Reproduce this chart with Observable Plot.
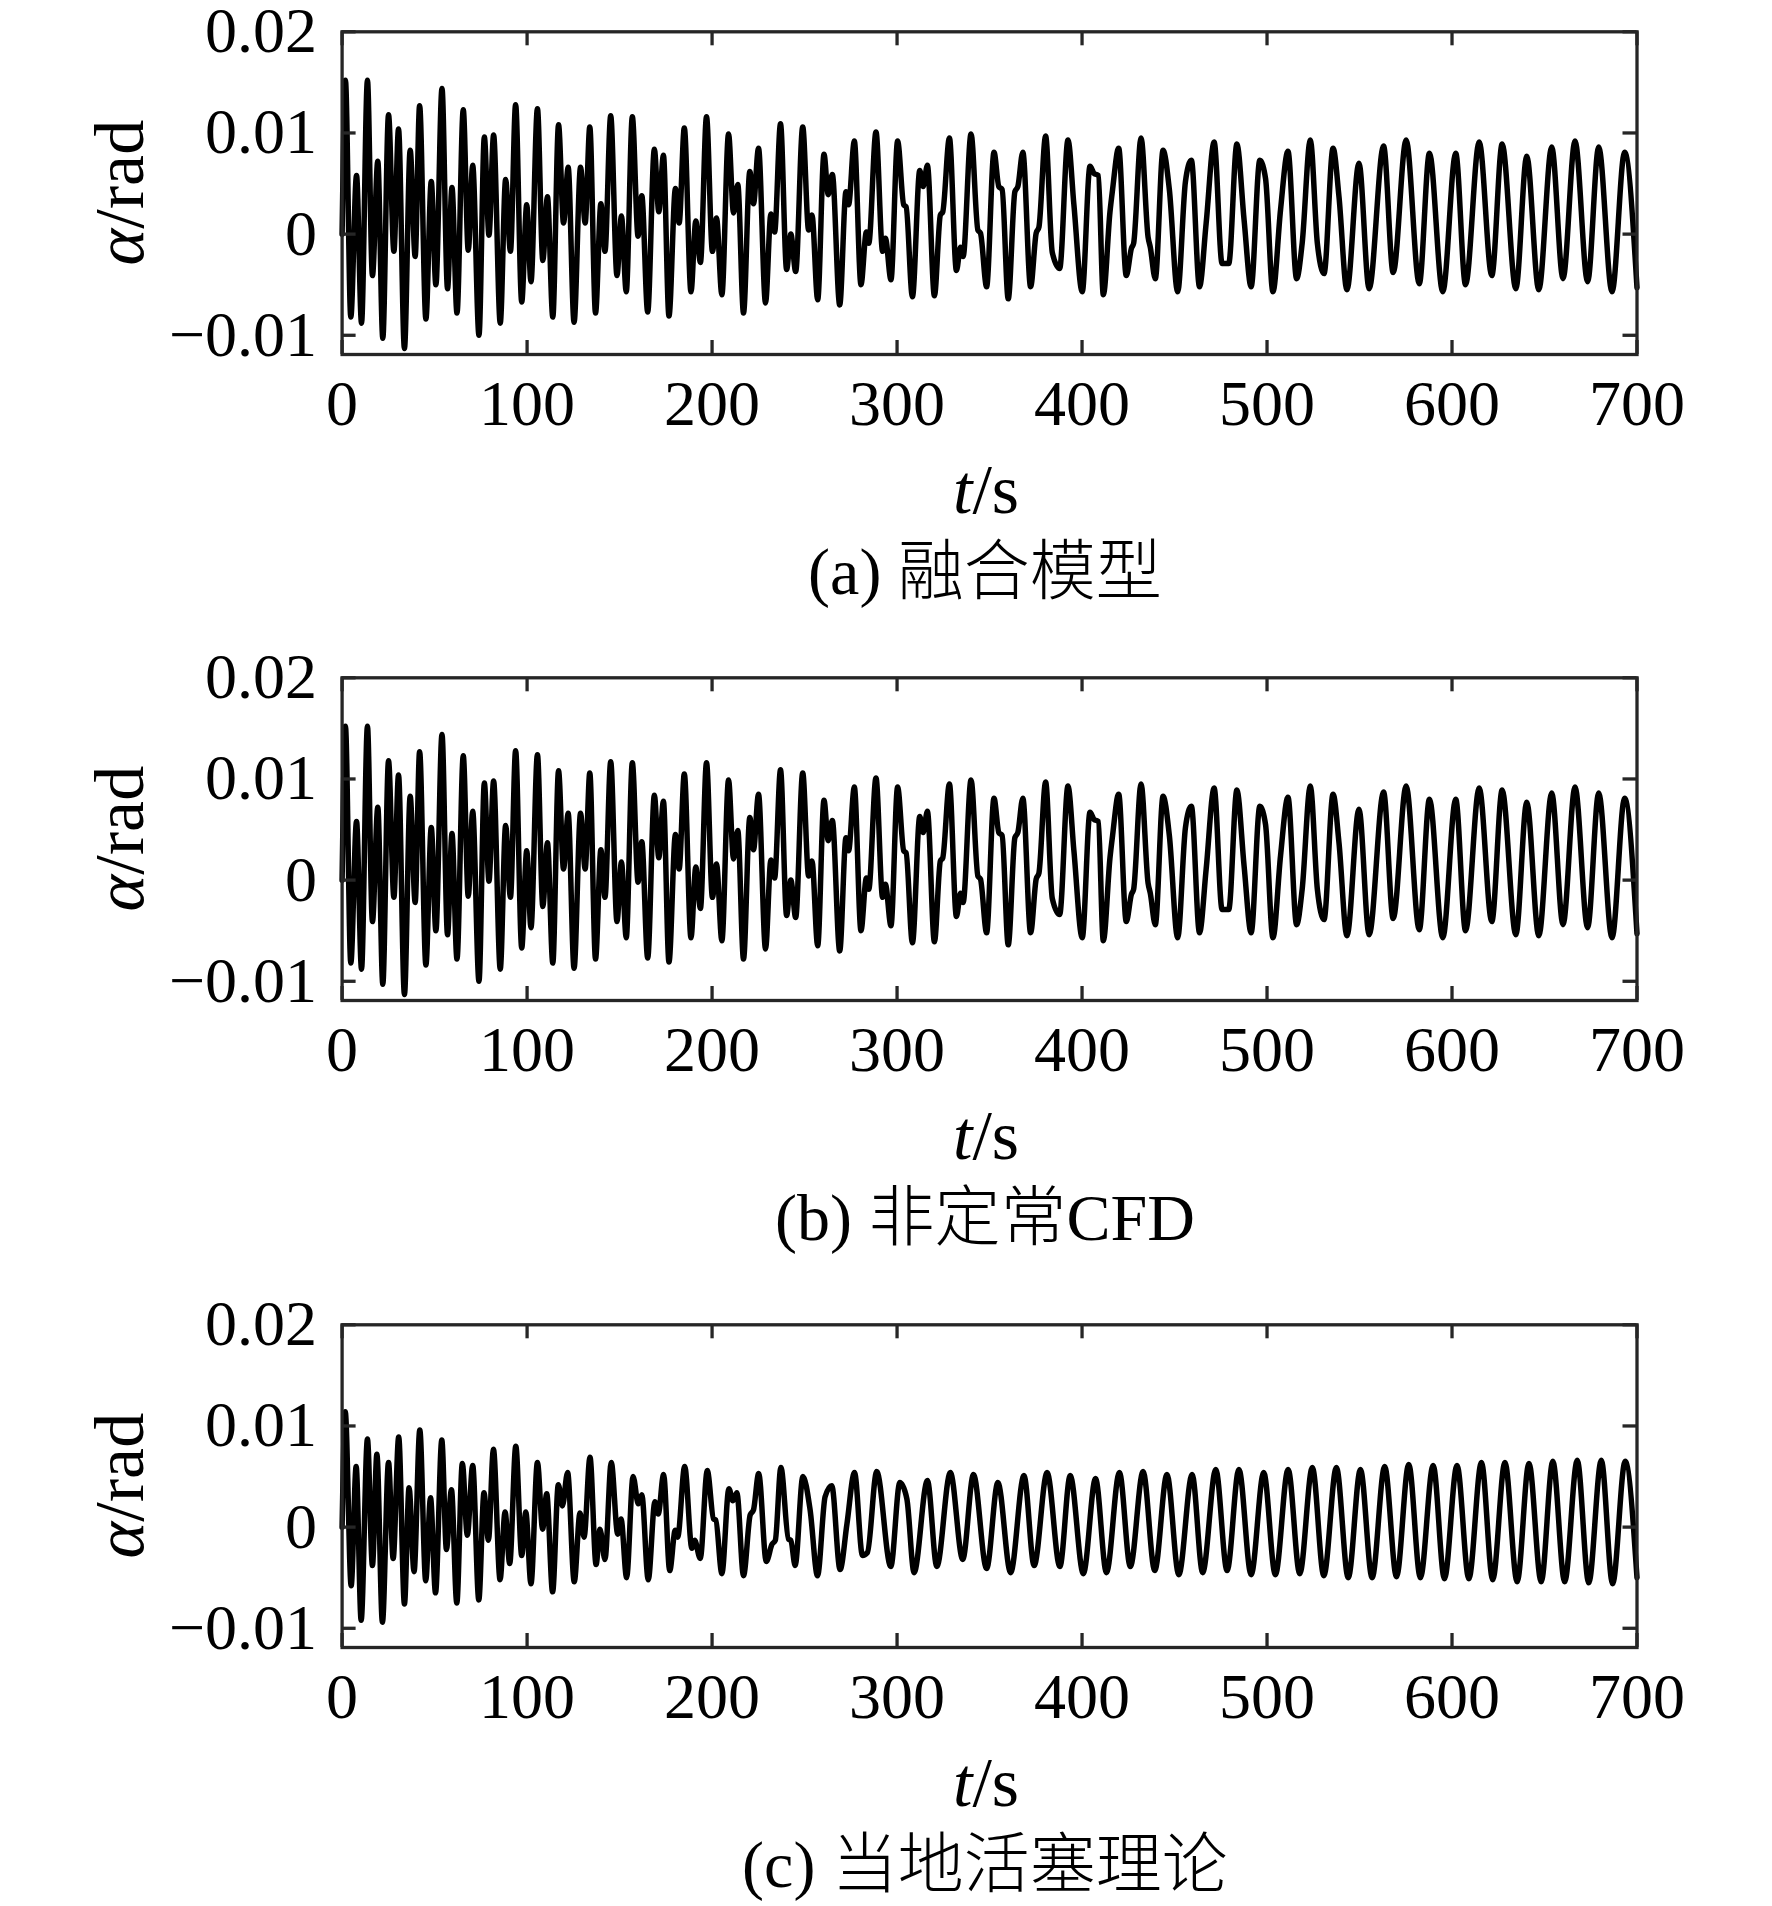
<!DOCTYPE html>
<html>
<head>
<meta charset="utf-8">
<script src="https://cdn.jsdelivr.net/npm/d3@7"></script>
<script src="https://cdn.jsdelivr.net/npm/@observablehq/plot@0.6"></script>
<style>
  html, body { margin: 0; padding: 0; background: #fff; }
  #fig { position: relative; width: 1772px; height: 1906px; background: #fff; }
  #fig svg { position: absolute; left: 0; }
</style>
</head>
<body>
<div id="fig"></div>
<script>
// ---- data: [t (s), alpha (rad)] ----
const fusion = [
[0,0],[1.8,0.0152],[4.7,-0.0082],[7.8,0.0058],[10.5,-0.0088],[13.7,0.0152],[16.4,-0.0041],[19.3,0.0072],[22.0,-0.0103],[25.1,0.0118],
[28.0,-0.0017],[30.5,0.0104],[33.7,-0.0113],[36.8,0.0083],[39.5,-0.0022],[41.9,0.0127],[45.3,-0.0084],[48.2,0.0052],[50.7,-0.0050],[54.0,0.0144],
[57.0,-0.0054],[59.4,0.0046],[62.1,-0.0078],[65.5,0.0123],[68.2,-0.0016],[70.6,0.0068],[74.0,-0.0100],[76.9,0.0096],[79.4,-0.0001],[81.9,0.0098],
[85.5,-0.0088],[88.4,0.0054],[91.0,-0.0017],[93.8,0.0128],[97.1,-0.0067],[99.8,0.0029],[102.1,-0.0047],[105.6,0.0124],[108.5,-0.0026],[111.0,0.0037],
[113.9,-0.0082],[117.0,0.0108],[119.7,0.0011],[122.2,0.0066],[125.4,-0.0087],[128.9,0.0066],[131.4,0.0011],[133.9,0.0106],[137.0,-0.0078],[139.9,0.0030],
[142.1,-0.0017],[145.2,0.0117],[148.6,-0.0041],[151.0,0.0018],[153.6,-0.0057],[156.9,0.0116],[160.0,-0.0002],[162.0,0.0038],[165.2,-0.0077],[168.8,0.0084],
[171.2,0.0022],[173.7,0.0078],[176.7,-0.0081],[180.2,0.0045],[182.2,0.0011],[185.0,0.0105],[188.6,-0.0057],[191.2,0.0013],[193.7,-0.0028],[197.0,0.0116],
[200.2,-0.0017],[202.4,0.0016],[205.3,-0.0060],[208.9,0.0099],[211.6,0.0021],[213.9,0.0049],[217.0,-0.0078],[220.4,0.0062],[222.4,0.0030],[225.1,0.0085],
[228.9,-0.0068],[231.8,0.0020],[233.8,0.0002],[237.0,0.0109],[240.3,-0.0035],[242.6,0.0000],[245.2,-0.0037],[249.0,0.0106],[252.2,0.0004],[254.0,0.0019],
[257.1,-0.0065],[260.5,0.0079],[262.8,0.0039],[265.0,0.0059],[269.0,-0.0070],[272.4,0.0042],[273.8,0.0029],[276.9,0.0092],[280.5,-0.0050],[283.4,0.0002],
[284.7,-0.0009],[288.6,0.0101],[292.2,-0.0017],[293.7,-0.0004],[296.7,-0.0045],[300.3,0.0092],[303.6,0.0029],[304.9,0.0027],[308.3,-0.0062],[312.3,0.0063],
[314.1,0.0047],[316.4,0.0068],[320.2,-0.0061],[323.4,0.0019],[324.7,0.0022],[328.3,0.0095],[332.1,-0.0036],[334.3,-0.0013],[335.7,-0.0022],[340.0,0.0099],
[343.7,0.0004],[345.1,0.0001],[348.4,-0.0052],[352.4,0.0081],[355.0,0.0047],[356.8,0.0044],[360.1,-0.0064],[363.7,0.0042],[365.3,0.0047],[368.0,0.0081],
[372.2,-0.0052],[375.2,0.0001],[376.7,0.0007],[380.3,0.0097],[383.9,-0.0018],[387.9,-0.0034],[392.4,0.0093],[395.6,0.0029],[400.1,-0.0057],[404.3,0.0067],
[406.5,0.0060],[408.8,0.0058],[411.5,-0.0060],[415.1,0.0022],[416.5,0.0044],[419.8,0.0085],[423.9,-0.0041],[426.7,-0.0014],[427.9,-0.0009],[431.9,0.0095],
[435.7,-0.0003],[436.9,-0.0013],[439.6,-0.0044],[443.8,0.0083],[447.2,0.0044],[451.7,-0.0057],[455.9,0.0052],[459.1,0.0073],[463.5,-0.0052],[467.1,0.0011],
[471.4,0.0091],[475.7,-0.0029],[479.3,-0.0029],[483.7,0.0089],[487.6,0.0014],[491.4,-0.0052],[496.1,0.0073],[499.2,0.0055],[503.2,-0.0057],[507.3,0.0024],
[511.3,0.0082],[516.0,-0.0044],[519.0,-0.0009],[523.4,0.0093],[527.2,-0.0009],[530.8,-0.0039],[535.7,0.0085],[538.9,0.0037],[543.2,-0.0055],[549.7,0.0070],
[555.2,-0.0054],[563.0,0.0087],[568.2,-0.0038],[575.2,0.0093],[582.3,-0.0049],[587.8,0.0080],[595.0,-0.0057],[602.0,0.0080],[607.3,-0.0050],[614.7,0.0091],
[621.5,-0.0041],[627.1,0.0089],[634.5,-0.0054],[640.4,0.0077],[646.9,-0.0055],[653.9,0.0086],[660.0,-0.0044],[666.5,0.0092],[673.3,-0.0047],[679.3,0.0086],
[686.5,-0.0057],[693.3,0.0081],[700.0,-0.0053]
];

const cfd = [
[0,0],[1.8,0.0152],[4.7,-0.0082],[7.8,0.0058],[10.5,-0.0088],[13.7,0.0152],[16.4,-0.0041],[19.3,0.0072],[22.0,-0.0103],[25.1,0.0118],
[28.0,-0.0017],[30.5,0.0104],[33.7,-0.0113],[36.8,0.0083],[39.5,-0.0022],[41.9,0.0127],[45.3,-0.0084],[48.2,0.0052],[50.7,-0.0050],[54.0,0.0144],
[57.0,-0.0054],[59.4,0.0046],[62.1,-0.0078],[65.5,0.0123],[68.2,-0.0016],[70.6,0.0068],[74.0,-0.0100],[76.9,0.0096],[79.4,-0.0001],[81.9,0.0098],
[85.5,-0.0088],[88.4,0.0054],[91.0,-0.0017],[93.8,0.0128],[97.1,-0.0067],[99.8,0.0029],[102.1,-0.0047],[105.6,0.0124],[108.5,-0.0026],[111.0,0.0037],
[113.9,-0.0082],[117.0,0.0108],[119.7,0.0011],[122.2,0.0066],[125.4,-0.0087],[128.9,0.0066],[131.4,0.0011],[133.9,0.0106],[137.0,-0.0078],[139.9,0.0030],
[142.1,-0.0017],[145.2,0.0117],[148.6,-0.0041],[151.0,0.0018],[153.6,-0.0057],[156.9,0.0116],[160.0,-0.0002],[162.0,0.0038],[165.2,-0.0077],[168.8,0.0084],
[171.2,0.0022],[173.7,0.0078],[176.7,-0.0081],[180.2,0.0045],[182.2,0.0011],[185.0,0.0105],[188.6,-0.0057],[191.2,0.0013],[193.7,-0.0028],[197.0,0.0116],
[200.2,-0.0017],[202.4,0.0016],[205.3,-0.0060],[208.9,0.0099],[211.6,0.0021],[213.9,0.0049],[217.0,-0.0078],[220.4,0.0062],[222.4,0.0030],[225.1,0.0085],
[228.9,-0.0068],[231.8,0.0020],[233.8,0.0002],[237.0,0.0109],[240.3,-0.0035],[242.6,0.0000],[245.2,-0.0037],[249.0,0.0106],[252.2,0.0004],[254.0,0.0019],
[257.1,-0.0065],[260.5,0.0079],[262.8,0.0039],[265.0,0.0059],[269.0,-0.0070],[272.4,0.0042],[273.8,0.0029],[276.9,0.0092],[280.5,-0.0050],[283.4,0.0002],
[284.7,-0.0009],[288.6,0.0101],[292.2,-0.0017],[293.7,-0.0004],[296.7,-0.0045],[300.3,0.0092],[303.6,0.0029],[304.9,0.0027],[308.3,-0.0062],[312.3,0.0063],
[314.1,0.0047],[316.4,0.0068],[320.2,-0.0061],[323.4,0.0019],[324.7,0.0022],[328.3,0.0095],[332.1,-0.0036],[334.3,-0.0013],[335.7,-0.0022],[340.0,0.0099],
[343.7,0.0004],[345.1,0.0001],[348.4,-0.0052],[352.4,0.0081],[355.0,0.0047],[356.8,0.0044],[360.1,-0.0064],[363.7,0.0042],[365.3,0.0047],[368.0,0.0081],
[372.2,-0.0052],[375.2,0.0001],[376.7,0.0007],[380.3,0.0097],[383.9,-0.0018],[387.9,-0.0034],[392.4,0.0093],[395.6,0.0029],[400.1,-0.0057],[404.3,0.0067],
[406.5,0.0060],[408.8,0.0058],[411.5,-0.0060],[415.1,0.0022],[416.5,0.0044],[419.8,0.0085],[423.9,-0.0041],[426.7,-0.0014],[427.9,-0.0009],[431.9,0.0095],
[435.7,-0.0003],[436.9,-0.0013],[439.6,-0.0044],[443.8,0.0083],[447.2,0.0044],[451.7,-0.0057],[455.9,0.0052],[459.1,0.0073],[463.5,-0.0052],[467.1,0.0011],
[471.4,0.0091],[475.7,-0.0029],[479.3,-0.0029],[483.7,0.0089],[487.6,0.0014],[491.4,-0.0052],[496.1,0.0073],[499.2,0.0055],[503.2,-0.0057],[507.3,0.0024],
[511.3,0.0082],[516.0,-0.0044],[519.0,-0.0009],[523.4,0.0093],[527.2,-0.0009],[530.8,-0.0039],[535.7,0.0085],[538.9,0.0037],[543.2,-0.0055],[549.7,0.0070],
[555.2,-0.0054],[563.0,0.0087],[568.2,-0.0038],[575.2,0.0093],[582.3,-0.0049],[587.8,0.0080],[595.0,-0.0057],[602.0,0.0080],[607.3,-0.0050],[614.7,0.0091],
[621.5,-0.0041],[627.1,0.0089],[634.5,-0.0054],[640.4,0.0077],[646.9,-0.0055],[653.9,0.0086],[660.0,-0.0044],[666.5,0.0092],[673.3,-0.0047],[679.3,0.0086],
[686.5,-0.0057],[693.3,0.0081],[700.0,-0.0053]
];

const piston = [
[0,0],[1.7,0.0114],[4.9,-0.0058],[7.6,0.0060],[10.3,-0.0092],[13.7,0.0087],[16.4,-0.0038],[18.8,0.0072],[21.8,-0.0094],[25.1,0.0064],
[27.6,-0.0031],[30.6,0.0089],[33.7,-0.0076],[36.2,0.0039],[38.9,-0.0044],[42.0,0.0096],[45.2,-0.0053],[47.8,0.0029],[50.5,-0.0065],[53.9,0.0086],
[56.4,-0.0022],[59.1,0.0037],[62.0,-0.0075],[65.0,0.0063],[67.7,-0.0008],[70.6,0.0061],[73.9,-0.0072],[76.7,0.0034],[79.1,-0.0013],[81.8,0.0077],
[85.4,-0.0052],[88.1,0.0015],[90.6,-0.0036],[93.9,0.0080],[97.1,-0.0028],[99.3,0.0015],[102.1,-0.0056],[105.6,0.0064],[108.4,-0.0002],[110.6,0.0033],
[113.8,-0.0064],[116.9,0.0042],[119.1,0.0021],[121.9,0.0054],[125.5,-0.0054],[128.6,0.0014],[130.8,-0.0010],[134.0,0.0069],[137.3,-0.0037],[139.4,-0.0002],
[142.1,-0.0032],[145.5,0.0064],[149.0,-0.0007],[150.8,0.0008],[153.8,-0.0050],[157.3,0.0050],[160.1,0.0023],[162.0,0.0032],[165.5,-0.0052],[169.1,0.0025],
[170.9,0.0013],[173.8,0.0052],[177.1,-0.0043],[180.1,-0.0003],[181.4,-0.0010],[185.2,0.0060],[189.1,-0.0021],[190.6,-0.0013],[193.6,-0.0031],[197.4,0.0056],
[200.8,0.0008],[202.0,0.0007],[205.3,-0.0046],[209.1,0.0038],[211.3,0.0026],[213.4,0.0034],[217.0,-0.0048],[220.6,0.0012],[222.4,0.0017],[225.2,0.0053],
[229.3,-0.0034],[232.4,-0.0017],[234.2,-0.0013],[237.2,0.0059],[241.3,-0.0012],[242.6,-0.0013],[244.9,-0.0038],[249.1,0.0050],[253.0,0.0017],[257.0,-0.0048],
[261.1,0.0030],[264.7,0.0041],[269.2,-0.0042],[272.9,0.0003],[277.0,0.0054],[281.3,-0.0028],[284.0,-0.0025],[289.0,0.0055],[296.6,-0.0039],[301.5,0.0044],
[305.3,0.0028],[309.2,-0.0045],[316.4,0.0046],[321.5,-0.0039],[328.8,0.0054],[335.5,-0.0032],[341.3,0.0052],[348.4,-0.0041],[354.5,0.0044],[361.4,-0.0045],
[368.6,0.0051],[374.1,-0.0038],[381.1,0.0054],[388.0,-0.0039],[393.6,0.0051],[400.7,-0.0046],[407.3,0.0048],[413.2,-0.0045],[420.2,0.0054],[426.1,-0.0039],
[433.0,0.0055],[439.3,-0.0043],[445.9,0.0052],[452.3,-0.0047],[459.5,0.0052],[465.2,-0.0045],[472.3,0.0057],[478.4,-0.0043],[484.8,0.0057],[491.4,-0.0047],
[498.2,0.0054],[504.5,-0.0047],[511.4,0.0057],[517.7,-0.0046],[524.5,0.0059],[530.7,-0.0048],[537.5,0.0059],[543.9,-0.0050],[550.5,0.0057],[556.8,-0.0050],
[563.6,0.0060],[570.0,-0.0049],[576.6,0.0062],[582.9,-0.0050],[589.8,0.0061],[595.9,-0.0051],[602.7,0.0061],[609.1,-0.0051],[615.9,0.0064],[622.0,-0.0052],
[628.6,0.0064],[635.2,-0.0054],[641.6,0.0063],[648.2,-0.0054],[654.5,0.0065],[660.9,-0.0054],[667.7,0.0066],[673.9,-0.0055],[680.7,0.0066],[686.8,-0.0056],
[693.6,0.0065],[700.0,-0.0050]
];

const xTicks = [0, 100, 200, 300, 400, 500, 600, 700];
const yTicks = [-0.01, 0, 0.01, 0.02];
const yDomain = [-0.0119, 0.02];
const xDomain = [0, 700];
const captions = ["(a) 融合模型", "(b) 非定常CFD", "(c) 当地活塞理论"];
const xLabel = ["t", "/s"];
const yLabel = ["α", "/rad"];

// ---- layout ----
const W = 1772;
const mL = 341.6, mR = 135.5, mT = 31.3, plotH = 322.7;
const plotW = W - mL - mR;
const blocks = [{top: 0, h: 646}, {top: 646, h: 647}, {top: 1293, h: 613}];
const axisColor = "#262626";
const serif = "'Liberation Serif', 'Times New Roman', serif";
const fmtY = d => d === 0 ? "0" : (d < 0 ? "\u2212" : "") + Math.abs(d).toFixed(2);

const fig = document.getElementById("fig");
const series = [fusion, cfd, piston];

series.forEach((s, i) => {
  const b = blocks[i];
  const data = s.map(([t, a]) => ({t, a}));
  const tickStyle = {stroke: axisColor, strokeWidth: 3.3};
  const svg = Plot.plot({
    width: W, height: b.h,
    marginLeft: mL, marginRight: mR, marginTop: mT, marginBottom: b.h - mT - plotH,
    x: {domain: xDomain, ticks: xTicks},
    y: {domain: yDomain, ticks: yTicks},
    style: {fontFamily: serif, fontSize: "64px", color: "#000", background: "transparent", overflow: "visible"},
    marks: [
      Plot.lineY(data, {x: "t", y: "a", stroke: "#000", strokeWidth: 5.5, curve: "monotone-x", strokeLinejoin: "round"}),
      Plot.tickX(xTicks, {x: d => d, insetBottom: plotH - 14, ...tickStyle}),
      Plot.tickX(xTicks, {x: d => d, insetTop: plotH - 14, ...tickStyle}),
      Plot.tickY(yTicks, {y: d => d, insetRight: plotW - 14, ...tickStyle}),
      Plot.tickY(yTicks, {y: d => d, insetLeft: plotW - 14, ...tickStyle}),
      Plot.frame({stroke: axisColor, strokeWidth: 3.3}),
      Plot.axisX(xTicks, {tickSize: 0, tickPadding: 25, label: null, fontSize: 64, fill: "#000"}),
      Plot.axisY(yTicks, {tickSize: 0, tickPadding: 25, label: null, tickFormat: fmtY, fontSize: 64, fill: "#000"})
    ]
  });
  svg.style.top = b.top + "px";
  const sel = d3.select(svg);

  // y-axis label
  const yl = sel.append("text")
    .attr("transform", `translate(143,${mT + plotH / 2}) rotate(-90)`)
    .attr("text-anchor", "middle")
    .attr("font-family", serif).attr("font-size", 70).attr("fill", "#000");
  yl.append("tspan").attr("font-style", "italic").text(yLabel[0]);
  yl.append("tspan").text(yLabel[1]);

  // x-axis label
  const xl = sel.append("text")
    .attr("x", 986).attr("y", 513)
    .attr("text-anchor", "middle")
    .attr("font-family", serif).attr("font-size", 70).attr("fill", "#000");
  xl.append("tspan").attr("font-style", "italic").text(xLabel[0]);
  xl.append("tspan").text(xLabel[1]);

  // caption
  sel.append("text")
    .attr("x", 985).attr("y", 594)
    .attr("text-anchor", "middle")
    .attr("font-family", "'Liberation Serif', 'Noto Sans CJK SC', serif")
    .attr("font-weight", 300)
    .attr("font-size", 66).attr("fill", "#000")
    .text(captions[i]);

  fig.appendChild(svg);
});
</script>
</body>
</html>
